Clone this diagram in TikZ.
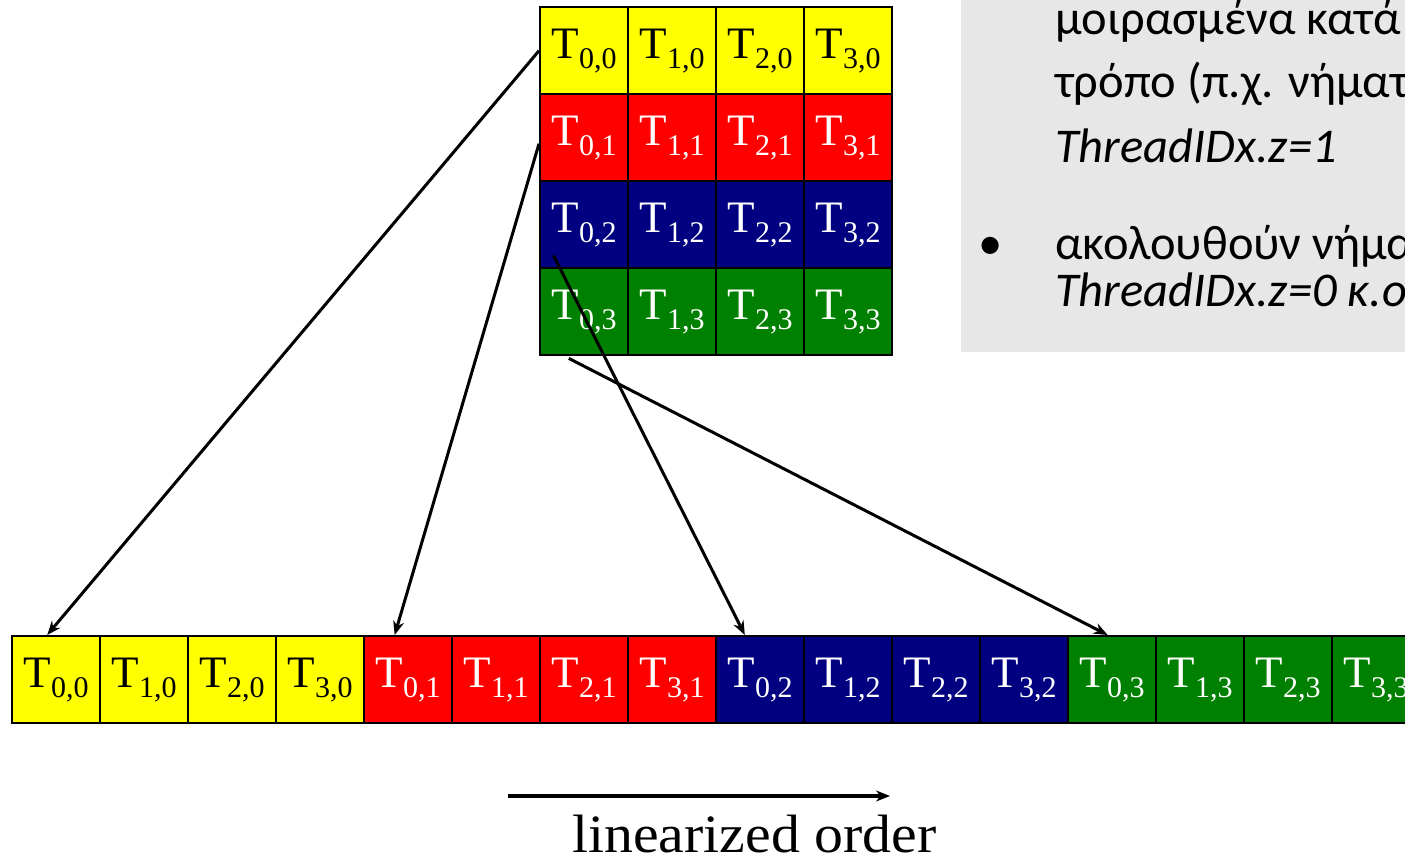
\documentclass[tikz,border=0pt]{standalone}
\usepackage{fontspec}
\setmainfont{Liberation Serif}
\newfontfamily\panelfont{Carlito}
\usetikzlibrary{calc,arrows.meta}

\definecolor{cyel}{RGB}{255,255,0}
\definecolor{cred}{RGB}{255,0,0}
\definecolor{cblu}{RGB}{0,0,128}
\definecolor{cgrn}{RGB}{0,128,0}
\definecolor{panelgray}{RGB}{231,231,231}

% thread label T_{x,y}
\newcommand{\tcell}[2]{\fontsize{45}{45}\selectfont T\raisebox{-10pt}{\fontsize{30}{30}\selectfont #1,#2}}

\tikzset{
  cell/.style={draw=black, line width=2.4pt, minimum width=88pt, minimum height=87pt,
    inner sep=0pt, anchor=north west},
  conn/.style={-{Stealth[length=14pt,width=11pt]}, line width=3pt},
  paneltext/.style={anchor=base west, inner sep=0pt, font=\panelfont\fontsize{48.5}{48.5}\selectfont},
}

\begin{document}
\begin{tikzpicture}[x=1pt,y=-1pt]
\useasboundingbox (0,0) rectangle (1405,860);
\fill[white] (0,0) rectangle (1405,860);

% grey text panel
\fill[panelgray] (961,-5) rectangle (1420,352);
\node[paneltext] (p1) at (1055,34) {μοιρασμένα κατά};
\node[paneltext] (p2) at (1055,97) {τρόπο (π.χ. νήματα};
\node[paneltext] (p3) at (1055,162) {\itshape ThreadIDx.z=1};
\node[paneltext] (pb) at (978,259) {•};
\node[paneltext] (p4) at (1055,259) {ακολουθούν νήματα};
\node[paneltext] (p5) at (1055,306) {\itshape ThreadIDx.z=0 κ.ο.κ.};

% 4x4 block of threads and its linearized row
\foreach \r/\fc/\tc in {0/cyel/black,1/cred/white,2/cblu/white,3/cgrn/white} {
  \foreach \c in {0,...,3} {
    \node[cell, fill=\fc, text=\tc] (g\c\r) at (539+88*\c, 6+87*\r) {\tcell{\c}{\r}};
    \node[cell, fill=\fc, text=\tc] (b\c\r) at (11+88*\c+352*\r, 635) {\tcell{\c}{\r}};
  }
}

% mapping of each row start into the linear order
\draw[conn] (g00.west) -- ($(b00.north west)!0.4!(b00.north east)$);
\draw[conn] ($(g01.west)+(0,6)$) -- ($(b01.north west)!0.35!(b01.north east)$);
\draw[conn] ($(g02.south west)!0.16!(g02.south east)+(0,-14)$) -- ($(b02.north west)!0.33!(b02.north east)$);
\draw[conn] ($(g03.south west)!0.33!(g03.south east)+(0,2)$) -- ($(b03.north west)!0.45!(b03.north east)$);

% direction of the linear order
\coordinate (los) at (508,796);
\coordinate (loe) at (890,796);
\draw[-{Stealth[length=14pt,width=11pt]}, line width=3.4pt] (los) -- (loe);
\node[anchor=base west, inner sep=0pt, text depth=0pt, font=\fontsize{54}{54}\selectfont] (lbl) at (572,852) {\scalebox{1.07}[1]{linearized order}};
\end{tikzpicture}
\end{document}
